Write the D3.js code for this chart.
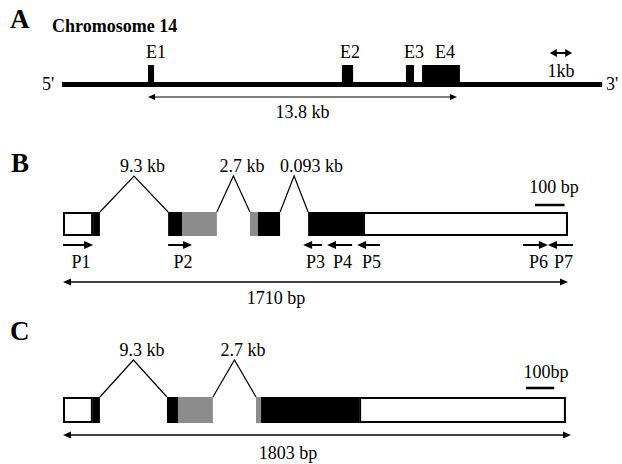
<!DOCTYPE html>
<html><head><meta charset="utf-8">
<script src="https://cdn.jsdelivr.net/npm/d3@7"></script>
<style>
body{margin:0;background:#fff}
svg{display:block}
text{font-family:"Liberation Serif","Times New Roman",serif;fill:#000}
</style>
</head><body>
<svg id="fig" width="622" height="464"></svg>
<script>
// Panel A: exons on chromosome 14, kb measured from the start of E1
const chromExonNames = ["E1", "E2", "E3", "E4"];
const chromExonStartKb = [0, 8.66, 11.52, 12.24];
const chromExonEndKb = [0.27, 9.16, 11.88, 13.93];
const chromExtentKb = [-3.84, 20.28];
const geneSpanKb = 13.8;
const chromScaleBarKb = 1;

// Panel B: transcript segments, bp along the drawn transcript
const segKindB = ["utr", "cds", "cds", "alt", "alt", "cds", "cds", "utr"];
const segStartB = [0, 102, 356, 403, 633, 660, 830, 1016];
const segEndB = [102, 125, 403, 521, 660, 735, 1016, 1710];
const intronLeftB = [125, 521, 735];
const intronRightB = [356, 633, 830];
const intronLabelB = ["9.3 kb", "2.7 kb", "0.093 kb"];
const primerNames = ["P1", "P2", "P3", "P4", "P5", "P6", "P7"];
const primerStart = [0, 356, 813, 894, 996, 1558, 1642];
const primerEnd = [102, 437, 877, 979, 1073, 1642, 1727];
const primerStrand = ["+", "+", "-", "-", "-", "+", "-"];
const lengthB = 1710;

// Panel C: alternative transcript
const segKindC = ["utr", "cds", "cds", "alt", "alt", "cds", "utr"];
const segStartC = [0, 106, 369, 408, 685, 703, 1051];
const segEndC = [106, 131, 408, 532, 703, 1051, 1785];
const intronLeftC = [131, 532];
const intronRightC = [369, 685];
const intronLabelC = ["9.3 kb", "2.7 kb"];
const lengthC = 1803;

const scaleBarBp = 100;

const svg = d3.select("#fig");
const fillOf = {utr: "#fff", cds: "#000", alt: "#8c8c8c"};

// filled triangular arrowhead with its tip at (x, y), pointing in direction dir (+1 right, -1 left)
function head(g, x, y, dir, len, half) {
  g.append("path")
    .attr("d", `M${x},${y}L${x - dir * len},${y - half}L${x - dir * len},${y + half}Z`)
    .attr("fill", "#000");
}

function doubleArrow(g, x0, x1, y, w, len, half) {
  g.append("line").attr("x1", x0 + len * 0.6).attr("x2", x1 - len * 0.6)
    .attr("y1", y).attr("y2", y).attr("stroke", "#000").attr("stroke-width", w);
  head(g, x0, y, -1, len, half);
  head(g, x1, y, 1, len, half);
}

function label(g, x, y, txt, size, anchor, weight) {
  return g.append("text").attr("x", x).attr("y", y)
    .attr("font-size", size).attr("text-anchor", anchor || "middle")
    .attr("font-weight", weight || "normal").text(txt);
}

// ---------- Panel A ----------
const gA = svg.append("g");
const xA = d3.scaleLinear().domain([0, geneSpanKb]).range([148, 457]);
label(gA, 10, 28, "A", 27, "start", "bold");
label(gA, 52, 32, "Chromosome 14", 18, "start", "bold");

const chromY = 84.5;
gA.append("line").attr("x1", xA(chromExtentKb[0])).attr("x2", xA(chromExtentKb[1]))
  .attr("y1", chromY).attr("y2", chromY).attr("stroke", "#000").attr("stroke-width", 5);
label(gA, xA(chromExtentKb[0]) - 20, 90, "5'", 18, "start");
label(gA, xA(chromExtentKb[1]) + 4, 90, "3'", 18, "start");

chromExonNames.forEach((n, i) => {
  const x0 = xA(chromExonStartKb[i]), x1 = xA(chromExonEndKb[i]);
  gA.append("rect").attr("x", x0).attr("y", 65).attr("width", x1 - x0).attr("height", chromY + 2.5 - 65)
    .attr("fill", "#000");
  const lx = (x1 - x0) > 20 ? (x0 + x1) / 2 + 4 : x0 + 8;
  label(gA, lx, 58, n, 18);
});

doubleArrow(gA, xA(0), xA(geneSpanKb), 97, 1.2, 7, 3);
label(gA, (xA(0) + xA(geneSpanKb)) / 2, 118, geneSpanKb + " kb", 18);

const sbCx = 561;
const sbHalf = (xA(chromScaleBarKb) - xA(0)) / 2;
doubleArrow(gA, sbCx - sbHalf, sbCx + sbHalf, 53, 2, 7, 4);
label(gA, sbCx, 77, chromScaleBarKb + "kb", 18);

// ---------- transcript panels ----------
function transcript(g, x, top, h, kinds, starts, ends, iL, iR, iLab, peakH) {
  kinds.forEach((k, i) => {
    const x0 = x(starts[i]), x1 = x(ends[i]);
    const r = g.append("rect").attr("fill", fillOf[k]);
    if (k === "utr") {
      r.attr("x", x0 + 1).attr("y", top + 1).attr("width", x1 - x0 - 2).attr("height", h - 2)
        .attr("stroke", "#000").attr("stroke-width", 2);
    } else {
      r.attr("x", x0).attr("y", top).attr("width", x1 - x0).attr("height", h);
    }
  });
  iL.forEach((l, i) => {
    const a = x(l), b = x(iR[i]), m = (a + b) / 2;
    g.append("path").attr("d", `M${a},${top}L${m},${top - peakH}L${b},${top}`)
      .attr("fill", "none").attr("stroke", "#000").attr("stroke-width", 1.2);
    label(g, m - 14, top - peakH - 4, iLab[i], 18, "start");
  });
}

// ---------- Panel B ----------
const gB = svg.append("g");
const xB = d3.scaleLinear().domain([0, lengthB]).range([63, 568]);
label(gB, 11, 172, "B", 27, "start", "bold");
transcript(gB, xB, 212, 24, segKindB, segStartB, segEndB, intronLeftB, intronRightB, intronLabelB, 36);

// primers
const primerY = 245;
primerNames.forEach((n, i) => {
  const x0 = xB(primerStart[i]), x1 = xB(primerEnd[i]);
  const dir = primerStrand[i] === "+" ? 1 : -1;
  const tip = dir > 0 ? x1 : x0, tail = dir > 0 ? x0 : x1;
  gB.append("line").attr("x1", tail).attr("x2", tip - dir * 6).attr("y1", primerY).attr("y2", primerY)
    .attr("stroke", "#000").attr("stroke-width", 2);
  head(gB, tip, primerY, dir, 9, 4);
  label(gB, (x0 + x1) / 2 + 3, 268, n, 18);
});

// 100 bp scale bar
const barB0 = 535;
gB.append("line").attr("x1", barB0).attr("x2", barB0 + xB(scaleBarBp) - xB(0))
  .attr("y1", 205).attr("y2", 205).attr("stroke", "#000").attr("stroke-width", 2.5);
label(gB, 554, 193, scaleBarBp + " bp", 18);

doubleArrow(gB, xB(0), xB(lengthB), 282, 1.5, 8, 3.5);
label(gB, 276, 304, lengthB + " bp", 18);

// ---------- Panel C ----------
const gC = svg.append("g");
const xC = d3.scaleLinear().domain([0, lengthC]).range([63, 571]);
label(gC, 10, 340, "C", 27, "start", "bold");
transcript(gC, xC, 397, 26, segKindC, segStartC, segEndC, intronLeftC, intronRightC, intronLabelC, 37);

const barC0 = 526;
gC.append("line").attr("x1", barC0).attr("x2", barC0 + xC(scaleBarBp) - xC(0))
  .attr("y1", 388).attr("y2", 388).attr("stroke", "#000").attr("stroke-width", 2.5);
label(gC, 546, 378, scaleBarBp + "bp", 18);

doubleArrow(gC, xC(0), xC(lengthC), 435, 1.5, 8, 3.5);
label(gC, 288, 459, lengthC + " bp", 18);
</script>
</body></html>
